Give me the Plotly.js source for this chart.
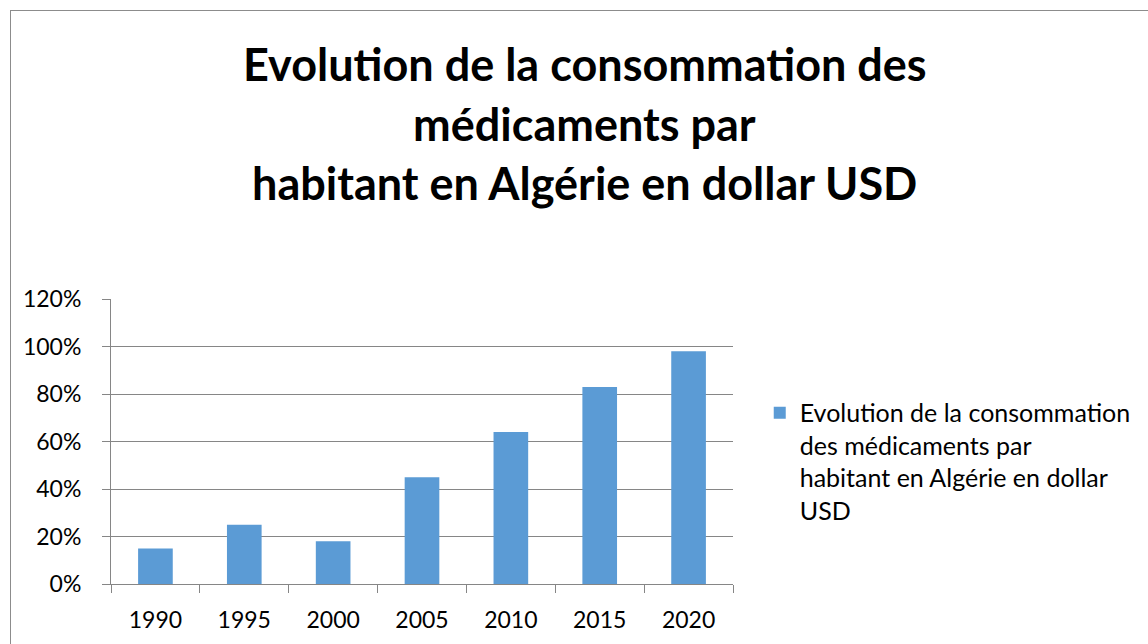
<!DOCTYPE html>
<html>
<head>
<meta charset="utf-8">
<script src="https://cdn.plot.ly/plotly-3.0.1.min.js"></script>
<style>
  html, body { margin: 0; padding: 0; background: #ffffff; }
  #wrap { position: relative; width: 1148px; height: 644px; overflow: hidden; }
  #chart { position: absolute; left: 0; top: 0; width: 1148px; height: 644px; }
  #frame { position: absolute; left: 10px; top: 10px; width: 1200px; height: 700px;
           border-left: 1px solid #8c8c8c; border-top: 1px solid #8c8c8c; pointer-events: none; }
</style>
</head>
<body>
<div id="wrap">
  <div id="chart"></div>
  <div id="frame"></div>
</div>
<script>
const years = ['1990', '1995', '2000', '2005', '2010', '2015', '2020'];
const values = [0.15, 0.25, 0.18, 0.45, 0.64, 0.83, 0.98];
const yTicks = [0, 0.2, 0.4, 0.6, 0.8, 1.0, 1.2];
const yTickLabels = ['0%', '20%', '40%', '60%', '80%', '100%', '120%'];
const seriesName = 'Evolution de la consommation<br>des médicaments par<br>habitant en Algérie en dollar<br>USD';
const titleLines = ['Evolution de la consommation des', 'médicaments par', 'habitant en Algérie en dollar USD'];

const FONT = 'Lato, "Open Sans", sans-serif';

const trace = {
  type: 'bar',
  x: years,
  y: values,
  name: seriesName,
  marker: { color: '#5b9bd5' },
  showlegend: true,
  hoverinfo: 'x+y'
};

const titleY = [64, 124, 183];
const annotations = titleLines.map((t, i) => ({
  text: '<b>' + t + '</b>',
  xref: 'paper', yref: 'paper',
  x: (587 - 111) / 625,
  y: (584 - titleY[i]) / 285,
  xanchor: 'center', yanchor: 'middle',
  showarrow: false,
  font: { family: FONT, size: 45, color: '#000000' }
}));

const layout = {
  width: 1148, height: 644,
  margin: { l: 111, r: 412, t: 299, b: 60 },
  paper_bgcolor: '#ffffff', plot_bgcolor: '#ffffff',
  font: { family: FONT, size: 23, color: '#000000' },
  bargap: 0.61,
  showlegend: true,
  legend: {
    x: 1.043, y: 0.681, xanchor: 'left', yanchor: 'top',
    valign: 'top',
    font: { family: FONT, size: 25, color: '#000000' },
    bgcolor: 'rgba(0,0,0,0)', borderwidth: 0,
    tracegroupgap: 0
  },
  xaxis: {
    type: 'category',
    showgrid: false,
    showline: true, linecolor: '#868686', linewidth: 1,
    ticks: 'outside', tickson: 'boundaries', ticklen: 8, tickcolor: '#868686', tickwidth: 1,
    ticklabelstandoff: 15,
    tickfont: { family: FONT, size: 23, color: '#000000' },
    zeroline: false,
    fixedrange: true
  },
  yaxis: {
    range: [0, 1.2],
    tickvals: yTicks, ticktext: yTickLabels,
    showgrid: true, gridcolor: '#868686', gridwidth: 1,
    showline: true, linecolor: '#868686', linewidth: 1,
    ticks: 'outside', ticklen: 8, tickcolor: '#868686', tickwidth: 1,
    ticklabelstandoff: 16,
    tickfont: { family: FONT, size: 23, color: '#000000' },
    zeroline: false,
    fixedrange: true
  },
  annotations: annotations
};

Plotly.newPlot('chart', [trace], layout, { displayModeBar: false, staticPlot: true });
</script>
</body>
</html>
